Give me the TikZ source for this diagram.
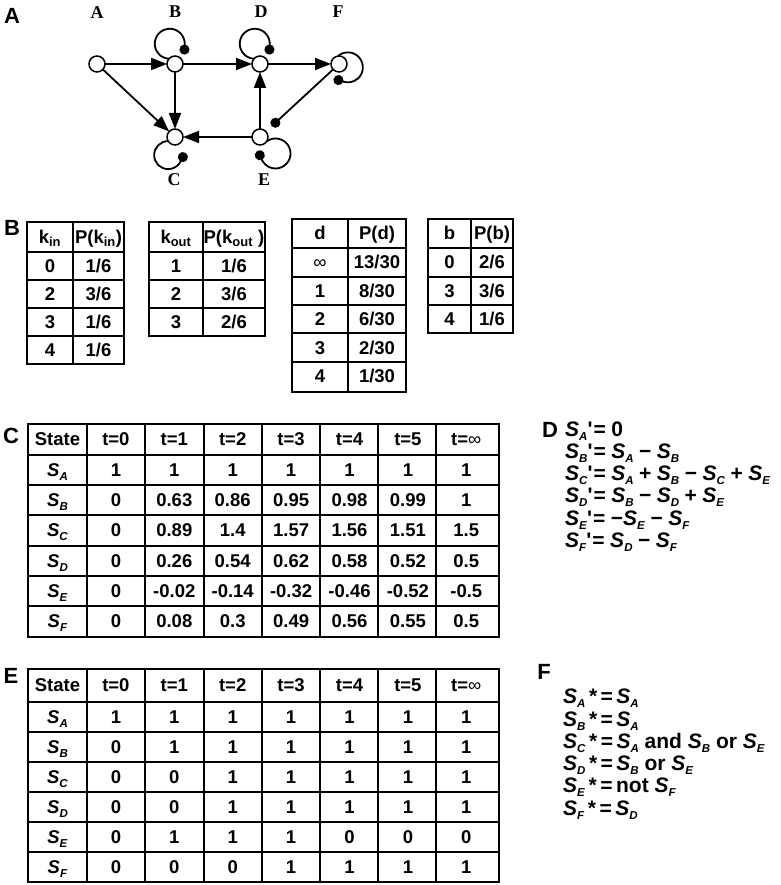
\documentclass[tikz,border=0pt]{standalone}
\usepackage{fontspec}
\setmainfont{Liberation Sans}
\newfontfamily\timesbf{Liberation Serif}
\usetikzlibrary{arrows.meta}
\newcommand\tabfont{\fontsize{18.5}{21}\selectfont\bfseries}
\newcommand\eqfont{\fontsize{21}{24}\selectfont\bfseries}
\newcommand\stv[1]{\textit{S}\raisebox{-4pt}{\fontsize{11.5}{11.5}\selectfont\textit{#1}}}
\newcommand\infsym{{\mdseries ∞}}
\newcommand\prm{\textquotesingle\hspace{1pt}}
\newcommand\op[1]{\hspace{5.5pt}#1\hspace{5.5pt}}

\begin{document}
\begin{tikzpicture}[x=1pt, y=1pt,
    gnode/.style={circle, draw, line width=1.5pt, fill=white, minimum size=16pt, inner sep=0pt, outer sep=0pt},
    gname/.style={font=\fontsize{18}{18}\selectfont\timesbf\bfseries},
    panel/.style={font=\fontsize{22}{22}\selectfont\bfseries, inner sep=0pt},
    act/.style={line width=1.8pt, -{Triangle[length=16pt, width=12pt]}},
    inh/.style={line width=1.8pt, -{Circle[length=10pt]}},
    cell/.style={font=\tabfont, text height=13pt, text depth=0pt, inner sep=0pt},
    tabout/.style={line width=2.6pt},
    tabin/.style={line width=1.2pt},
    eq/.style={font=\eqfont, anchor=base west, inner sep=0pt}]
\useasboundingbox (0,0) rectangle (780,885);

%panel A: the network
\node at (12, 869) [panel] (pA) {A};
\node at (97, 821) [gnode] (nA) {};
\node at (175, 821) [gnode] (nB) {};
\node at (260, 821) [gnode] (nD) {};
\node at (339, 821) [gnode] (nF) {};
\node at (175, 748) [gnode] (nC) {};
\node at (260, 748) [gnode] (nE) {};

\node at (97, 872) [gname] (lA) {A};
\node at (175, 873) [gname] (lB) {B};
\node at (261, 873) [gname] (lD) {D};
\node at (338, 873) [gname] (lF) {F};
\node at (174, 705) [gname] (lC) {C};
\node at (264, 705) [gname] (lE) {E};

\draw [act] (nA) -- (nB);
\draw [act] (nA) -- (nC);
\draw [act] (nB) -- (nC);
\draw [act] (nB) -- (nD);
\draw [act] (nD) -- (nF);
\draw [act] (nE) -- (nD);
\draw [act] (nE) -- (nC);
\draw [inh, shorten >=8pt] (nF) -- (nE);

%self loops
\draw [inh] (nB.139) arc[start angle=267, end angle=-40, radius=15];
\draw [inh] (nD.139) arc[start angle=267, end angle=-40, radius=15];
\draw [inh] (nF.97) arc[start angle=131, end angle=-145, radius=15];
\draw [inh] (nC.211) arc[start angle=90, end angle=372, radius=14];
\draw [inh] (nE.-33) arc[start angle=126, end angle=-192, radius=15];

%panel B: distributions
\node at (12, 657) [panel] (pB) {B};

\draw [tabin] (73,521) -- (73,663);
\foreach \y in {549,577,605,633} \draw [tabin] (27,\y) -- (124,\y);
\draw [tabout] (27,521) rectangle (124,663);
\node at (50,648) [cell] (kin) {k\textsubscript{in}};
\node at (98.5,648) [cell] (pkin) {P(k\textsubscript{in})};
\foreach \k/\n/\d [count=\i] in {0/1/6, 2/3/6, 3/1/6, 4/1/6} {
    \node at (50, 647-28*\i) [cell] (kin\i) {\k};
    \node at (98.5, 647-28*\i) [cell] (pkin\i) {\n/\d};
}

\draw [tabin] (203,549) -- (203,663);
\foreach \y in {577,605,633} \draw [tabin] (149,\y) -- (265,\y);
\draw [tabout] (149,549) rectangle (265,663);
\node at (176,648) [cell] (kout) {k\textsubscript{out}};
\node at (234,648) [cell] (pkout) {P(k\textsubscript{out} )};
\foreach \k/\n/\d [count=\i] in {1/1/6, 2/3/6, 3/2/6} {
    \node at (176, 647-28*\i) [cell] (kout\i) {\k};
    \node at (234, 647-28*\i) [cell] (pkout\i) {\n/\d};
}

\draw [tabin] (348,493) -- (348,666);
\foreach \y in {523,552,580,608,637} \draw [tabin] (292,\y) -- (406,\y);
\draw [tabout] (292,493) rectangle (406,666);
\node at (320,651.5) [cell] (dd) {d};
\node at (377,651.5) [cell] (pd) {P(d)};
\foreach \k/\n/\d [count=\i] in {\infsym/13/30, 1/8/30, 2/6/30, 3/2/30, 4/1/30} {
    \node at (320, 651.5-28.6*\i) [cell] (dd\i) {\k};
    \node at (377, 651.5-28.6*\i) [cell] (pd\i) {\n/\d};
}

\draw [tabin] (471,552) -- (471,666);
\foreach \y in {580,608,637} \draw [tabin] (428,\y) -- (513,\y);
\draw [tabout] (428,552) rectangle (513,666);
\node at (449.5,651.5) [cell] (bb) {b};
\node at (492,651.5) [cell] (pb) {P(b)};
\foreach \k/\n/\d [count=\i] in {0/2/6, 3/3/6, 4/1/6} {
    \node at (449.5, 651.5-28.6*\i) [cell] (bb\i) {\k};
    \node at (492, 651.5-28.6*\i) [cell] (pb\i) {\n/\d};
}

%panel C: continuous model
\node at (11, 449) [panel] (pC) {C};
\foreach \x in {87,145,204,262,320,378,436} \draw [tabin] (\x,248) -- (\x,461);
\foreach \y in {279,309,339,370,400,430} \draw [tabin] (28,\y) -- (499,\y);
\draw [tabout] (28,248) rectangle (499,461);
\node at (57.5,445.5) [cell] (cst) {State};
\foreach \h [count=\c] in {t=0,t=1,t=2,t=3,t=4,t=5,t=\infsym}
    \node at (57.5+58.4*\c, 445.5) [cell] (ch\c) {\h};
\foreach \lab/\vals [count=\r] in {A/{1,1,1,1,1,1,1}, B/{0,0.63,0.86,0.95,0.98,0.99,1},
        C/{0,0.89,1.4,1.57,1.56,1.51,1.5}, D/{0,0.26,0.54,0.62,0.58,0.52,0.5},
        E/{0,-0.02,-0.14,-0.32,-0.46,-0.52,-0.5}, F/{0,0.08,0.3,0.49,0.56,0.55,0.5}} {
    \pgfmathsetmacro\ry{415.3-30.35*(\r-1)}
    \node at (57.5, \ry) [cell] (c\r-0) {\stv{\lab}};
    \foreach \v [count=\c] in \vals
        \node at (57.5+58.4*\c, \ry) [cell] (c\r-\c) {\v};
}

%panel D: equations
\node at (550, 455) [panel] (pD) {D};
\node at (565,448) [eq] (d1) {\stv{A}\prm=\hspace{5.5pt}0};
\node at (565,426) [eq] (d2) {\stv{B}\prm=\hspace{5.5pt}\stv{A}\op{−}\stv{B}};
\node at (565,404) [eq] (d3) {\stv{C}\prm=\hspace{5.5pt}\stv{A}\op{+}\stv{B}\op{−}\stv{C}\op{+}\stv{E}};
\node at (565,382) [eq] (d4) {\stv{D}\prm=\hspace{5.5pt}\stv{B}\op{−}\stv{D}\op{+}\stv{E}};
\node at (565,359) [eq] (d5) {\stv{E}\prm=\hspace{5.5pt}−\stv{E}\op{−}\stv{F}};
\node at (565,337) [eq] (d6) {\stv{F}\prm=\hspace{5.5pt}\stv{D}\op{−}\stv{F}};

%panel E: boolean model
\node at (11, 209) [panel] (pE) {E};
\foreach \x in {87,145,204,262,320,378,436} \draw [tabin] (\x,3) -- (\x,216);
\foreach \y in {33,63,93,123,153,183} \draw [tabin] (28,\y) -- (499,\y);
\draw [tabout] (28,3) rectangle (499,216);
\node at (57.5,199.5) [cell] (est) {State};
\foreach \h [count=\c] in {t=0,t=1,t=2,t=3,t=4,t=5,t=\infsym}
    \node at (57.5+58.4*\c, 199.5) [cell] (eh\c) {\h};
\foreach \lab/\vals [count=\r] in {A/{1,1,1,1,1,1,1}, B/{0,1,1,1,1,1,1},
        C/{0,0,1,1,1,1,1}, D/{0,0,1,1,1,1,1},
        E/{0,1,1,1,0,0,0}, F/{0,0,0,1,1,1,1}} {
    \pgfmathsetmacro\ry{168-30*(\r-1)}
    \node at (57.5, \ry) [cell] (e\r-0) {\stv{\lab}};
    \foreach \v [count=\c] in \vals
        \node at (57.5+58.4*\c, \ry) [cell] (e\r-\c) {\v};
}

%panel F: rules
\node at (544, 213) [panel] (pF) {F};
\node at (563,181) [eq] (f1) {\stv{A}\,*\,=\,\stv{A}};
\node at (563,158) [eq] (f2) {\stv{B}\,*\,=\,\stv{A}};
\node at (563,136) [eq] (f3) {\stv{C}\,*\,=\,\stv{A} and \stv{B} or \stv{E}};
\node at (563,114) [eq] (f4) {\stv{D}\,*\,=\,\stv{B} or \stv{E}};
\node at (563,92) [eq] (f5) {\stv{E}\,*\,=\,not \stv{F}};
\node at (563,69) [eq] (f6) {\stv{F}\,*\,=\,\stv{D}};
\end{tikzpicture}
\end{document}
